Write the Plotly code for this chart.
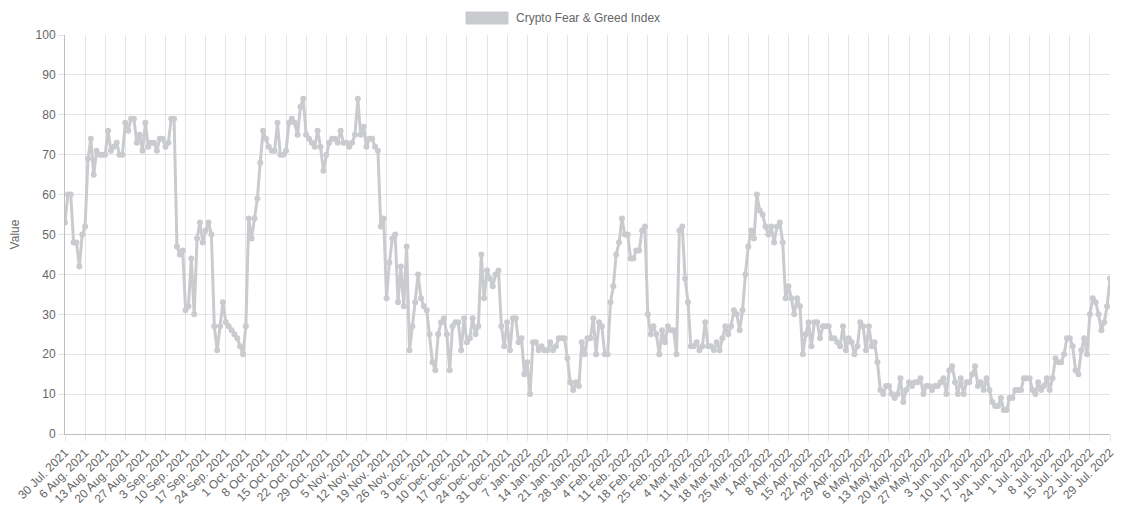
import pandas as pd
import plotly.graph_objects as go

# Crypto Fear & Greed Index, daily from 30 Jul 2021 (week by week)
weeks = [
    [53, 60, 60, 48, 48, 42, 50],
    [52, 69, 74, 65, 71, 70, 70],
    [70, 76, 71, 72, 73, 70, 70],
    [78, 76, 79, 79, 73, 75, 71],
    [78, 72, 73, 73, 71, 74, 74],
    [72, 73, 79, 79, 47, 45, 46],
    [31, 32, 44, 30, 49, 53, 48],
    [51, 53, 50, 27, 21, 27, 33],
    [28, 27, 26, 25, 24, 22, 20],
    [27, 54, 49, 54, 59, 68, 76],
    [74, 72, 71, 71, 78, 70, 70],
    [71, 78, 79, 78, 75, 82, 84],
    [75, 74, 73, 72, 76, 72, 66],
    [70, 73, 74, 74, 73, 76, 73],
    [73, 72, 73, 75, 84, 75, 77],
    [72, 74, 74, 72, 71, 52, 54],
    [34, 43, 49, 50, 33, 42, 32],
    [47, 21, 27, 33, 40, 34, 32],
    [31, 25, 18, 16, 25, 28, 29],
    [25, 16, 27, 28, 28, 21, 29],
    [23, 24, 29, 25, 27, 45, 34],
    [41, 39, 37, 40, 41, 27, 22],
    [28, 21, 29, 29, 23, 24, 15],
    [18, 10, 23, 23, 21, 22, 21],
    [21, 23, 21, 22, 24, 24, 24],
    [19, 13, 11, 13, 12, 23, 20],
    [24, 24, 29, 20, 28, 27, 20],
    [20, 33, 37, 45, 48, 54, 50],
    [50, 44, 44, 46, 46, 51, 52],
    [30, 25, 27, 25, 20, 26, 23],
    [27, 26, 26, 20, 51, 52, 39],
    [33, 22, 22, 23, 21, 22, 28],
    [22, 22, 21, 23, 21, 24, 27],
    [25, 27, 31, 30, 26, 31, 40],
    [47, 51, 49, 60, 56, 55, 52],
    [50, 52, 48, 52, 53, 48, 34],
    [37, 34, 30, 34, 32, 20, 25],
    [28, 22, 28, 28, 24, 27, 27],
    [27, 24, 24, 23, 22, 27, 21],
    [24, 23, 20, 22, 28, 27, 21],
    [27, 22, 23, 18, 11, 10, 12],
    [12, 10, 9, 10, 14, 8, 11],
    [13, 12, 13, 13, 14, 10, 12],
    [12, 11, 12, 12, 13, 14, 10],
    [16, 17, 13, 10, 14, 10, 13],
    [13, 15, 17, 12, 13, 11, 14],
    [11, 8, 7, 7, 9, 6, 6],
    [9, 9, 11, 11, 11, 14, 14],
    [14, 11, 10, 13, 11, 12, 14],
    [11, 14, 19, 18, 18, 20, 24],
    [24, 22, 16, 15, 21, 24, 20],
    [30, 34, 33, 30, 26, 28, 32],
    [39],
]
values = [v for w in weeks for v in w]
dates = pd.date_range("2021-07-30", periods=len(values), freq="D")

tick_dates = dates[::7]
tick_labels = [f"{d.day} {d.strftime('%b')}. {d.year}" for d in tick_dates]

series_name = "Crypto Fear & Greed Index"
color = "rgb(201,203,207)"

fig = go.Figure()
fig.add_trace(go.Scatter(
    x=dates, y=values,
    mode="lines+markers",
    name=series_name,
    line=dict(color=color, width=3),
    marker=dict(color=color, size=6),
))

# chart.js style legend: filled box + label above the plot
fig.add_shape(type="rect", xref="paper", yref="paper",
              x0=(466 - 65) / 1045, x1=(508 - 65) / 1045,
              y0=1 + 11 / 399, y1=1 + 23 / 399,
              fillcolor=color, line=dict(color=color, width=1))
fig.add_annotation(text=series_name, xref="paper", yref="paper",
                   x=(514 - 65) / 1045, y=1 + 17 / 399, xanchor="left", yanchor="middle",
                   showarrow=False, font=dict(size=12, color="#666"))

# page body adds ~8px offset, so the figure is 8px smaller each way
fig.update_layout(
    width=1115, height=500,
    paper_bgcolor="white", plot_bgcolor="white",
    margin=dict(l=57, r=13, t=27, b=74, autoexpand=False),
    font=dict(family="Arial, Liberation Sans, sans-serif", size=12, color="#666"),
    showlegend=False,
    hovermode="x",
)
fig.update_xaxes(
    range=[dates[0], dates[-1]],
    tickvals=list(tick_dates), ticktext=tick_labels, tickangle=-45,
    showgrid=True, gridcolor="rgba(0,0,0,0.1)",
    showline=True, linecolor="rgba(0,0,0,0.25)",
    ticks="outside", tickcolor="rgba(0,0,0,0.1)", ticklen=6,
    tickfont=dict(size=12, color="#666"),
)
fig.update_yaxes(
    range=[0, 100], dtick=10,
    title=dict(text="Value", font=dict(size=12, color="#666")),
    showgrid=True, gridcolor="rgba(0,0,0,0.1)",
    showline=True, linecolor="rgba(0,0,0,0.25)",
    ticks="outside", tickcolor="rgba(0,0,0,0.1)", ticklen=6,
    zeroline=False,
    tickfont=dict(size=12, color="#666"),
)

fig.write_html("out.html")
